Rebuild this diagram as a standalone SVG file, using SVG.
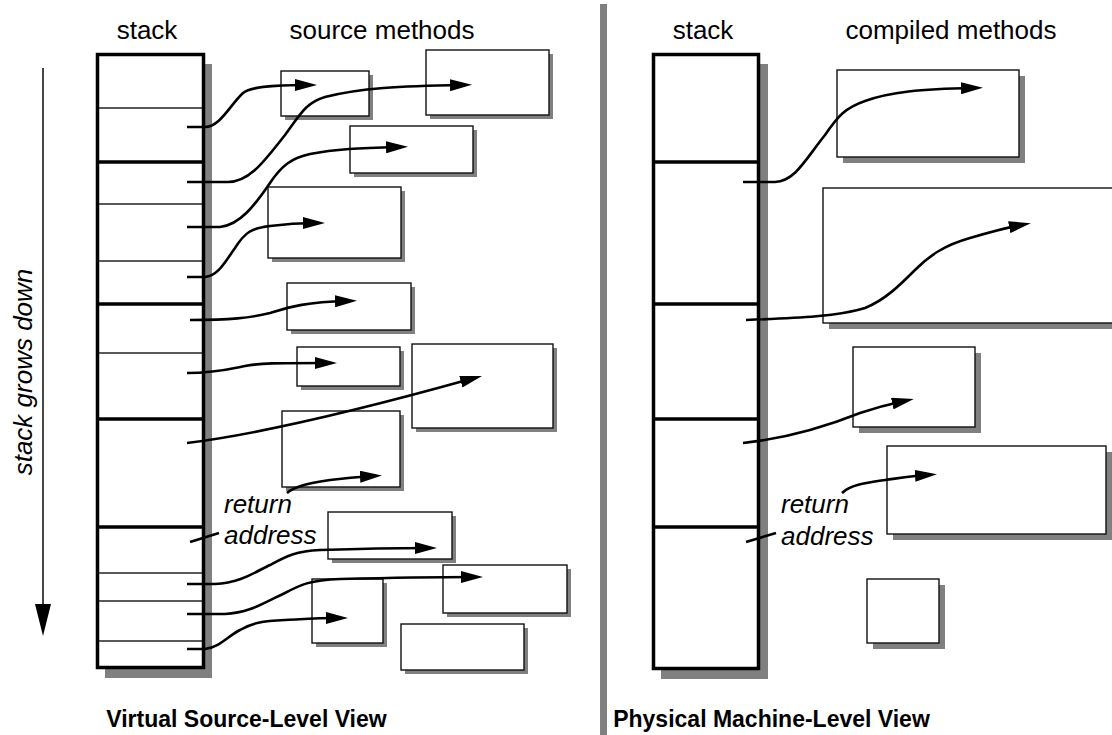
<svg xmlns="http://www.w3.org/2000/svg" width="1112" height="735" viewBox="0 0 1112 735">
  <style>
    .lbl { font-family: "Liberation Sans", Arial, sans-serif; font-size: 26px; fill: #000; }
    .it { font-style: italic; }
    .title { font-family: "Liberation Sans", Arial, sans-serif; font-size: 23px; font-weight: bold; fill: #000; }
    .stk { fill: #fff; stroke: #000; stroke-width: 3.5; }
    .shadow { fill: #808080; }
    .box { fill: #fff; stroke: #111; stroke-width: 1.4; }
    .thick { stroke: #000; stroke-width: 3.5; }
    .thin { stroke: #222; stroke-width: 1.3; }
    .conn { fill: none; stroke: #000; stroke-width: 2.6; }
    .arr { marker-end: url(#ah); }
  </style>
  <defs>
    <marker id="ah" markerUnits="userSpaceOnUse" markerWidth="22" markerHeight="12" refX="12" refY="6" orient="auto" viewBox="0 0 22 12">
      <path d="M0,0 L22,6 L0,12 z" fill="#000"/>
    </marker>
    <marker id="ahbig" markerUnits="userSpaceOnUse" markerWidth="16" markerHeight="32" refX="8" refY="0" viewBox="0 0 16 32">
      <path d="M0,0 L16,0 L8,32 z" fill="#000"/>
    </marker>
  </defs>

  <rect id="divider" x="600" y="4" width="7" height="731" fill="#808080"/>

  <g id="labels-top">
    <text class="lbl" x="147" y="39" text-anchor="middle">stack</text>
    <text class="lbl" x="382" y="39" text-anchor="middle">source methods</text>
    <text class="lbl" x="703" y="39" text-anchor="middle">stack</text>
    <text class="lbl" x="951" y="39" text-anchor="middle">compiled methods</text>
  </g>

  <g id="growth">
    <line x1="43" y1="68" x2="43" y2="604" stroke="#333" stroke-width="1.8" marker-end="url(#ahbig)"/>
    <text class="lbl it" transform="translate(32,372) rotate(-90)" text-anchor="middle">stack grows down</text>
  </g>

  <g id="stack-virtual">
    <rect class="shadow" x="105" y="64" width="107" height="614"/>
    <rect class="stk" x="97.5" y="54.5" width="106" height="613"/>
    <line class="thin" x1="99" y1="108" x2="202" y2="108"/>
    <line class="thick" x1="97" y1="162" x2="204" y2="162"/>
    <line class="thin" x1="99" y1="204" x2="202" y2="204"/>
    <line class="thin" x1="99" y1="261" x2="202" y2="261"/>
    <line class="thick" x1="97" y1="304" x2="204" y2="304"/>
    <line class="thin" x1="99" y1="353" x2="202" y2="353"/>
    <line class="thick" x1="97" y1="419" x2="204" y2="419"/>
    <line class="thick" x1="97" y1="527" x2="204" y2="527"/>
    <line class="thin" x1="99" y1="573" x2="202" y2="573"/>
    <line class="thin" x1="99" y1="601" x2="202" y2="601"/>
    <line class="thin" x1="99" y1="641" x2="202" y2="641"/>
  </g>

  <g id="stack-physical">
    <rect class="shadow" x="661" y="64" width="107" height="615"/>
    <rect class="stk" x="653.5" y="54.5" width="105" height="614"/>
    <line class="thick" x1="653" y1="162" x2="759" y2="162"/>
    <line class="thick" x1="653" y1="304" x2="759" y2="304"/>
    <line class="thick" x1="653" y1="419" x2="759" y2="419"/>
    <line class="thick" x1="653" y1="527" x2="759" y2="527"/>
  </g>

  <g id="src-m1"><rect class="shadow" x="285" y="75" width="88" height="45"/><rect class="box" x="281" y="71" width="88" height="45"/></g>
  <g id="src-m2"><rect class="shadow" x="430" y="54" width="123" height="65"/><rect class="box" x="426" y="50" width="123" height="65"/></g>
  <g id="src-m3"><rect class="shadow" x="354" y="130" width="123" height="47"/><rect class="box" x="350" y="126" width="123" height="47"/></g>
  <g id="src-m4"><rect class="shadow" x="272" y="191" width="133" height="71"/><rect class="box" x="268" y="187" width="133" height="71"/></g>
  <g id="src-m5"><rect class="shadow" x="291" y="287" width="124" height="47"/><rect class="box" x="287" y="283" width="124" height="47"/></g>
  <g id="src-m6"><rect class="shadow" x="301" y="351" width="103" height="39"/><rect class="box" x="297" y="347" width="103" height="39"/></g>
  <g id="src-m7"><rect class="shadow" x="416" y="348" width="141" height="84"/><rect class="box" x="412" y="344" width="141" height="84"/></g>
  <g id="src-m8"><rect class="shadow" x="286" y="415" width="118" height="76"/><rect class="box" x="282" y="411" width="118" height="76"/></g>
  <g id="src-m9"><rect class="shadow" x="332" y="516" width="124" height="47"/><rect class="box" x="328" y="512" width="124" height="47"/></g>
  <g id="src-m10"><rect class="shadow" x="447" y="569" width="124" height="48"/><rect class="box" x="443" y="565" width="124" height="48"/></g>
  <g id="src-m11"><rect class="shadow" x="316" y="583" width="71" height="64"/><rect class="box" x="312" y="579" width="71" height="64"/></g>
  <g id="src-m12"><rect class="shadow" x="405" y="628" width="123" height="46"/><rect class="box" x="401" y="624" width="123" height="46"/></g>

  <g id="cmp-m1"><rect class="shadow" x="843" y="76" width="182" height="87"/><rect class="box" x="837" y="70" width="182" height="87"/></g>
  <g id="cmp-m2"><rect class="shadow" x="829" y="194" width="300" height="135"/><rect class="box" x="823" y="188" width="300" height="135"/></g>
  <g id="cmp-m3"><rect class="shadow" x="859" y="353" width="122" height="80"/><rect class="box" x="853" y="347" width="122" height="80"/></g>
  <g id="cmp-m4"><rect class="shadow" x="893" y="452" width="219" height="88"/><rect class="box" x="887" y="446" width="219" height="88"/></g>
  <g id="cmp-m5"><rect class="shadow" x="873" y="585" width="72" height="64"/><rect class="box" x="867" y="579" width="72" height="64"/></g>

  <g id="connectors">
    <path class="conn arr" d="M187,127 L205,127 C220,127 230,105 243,93 C250,87 270,85 307,85"/>
    <path class="conn arr" d="M187,182 L228,182 C250,182 265,160 285,135 C300,115 305,103 325,97 C360,88 400,86 462,85"/>
    <path class="conn arr" d="M187,227 L220,227 C240,225 255,205 270,183 C282,165 292,158 310,154 C335,149 360,148 398,147"/>
    <path class="conn arr" d="M187,277 L205,277 C218,276 225,262 235,248 C245,232 252,228 270,226 C285,224 300,223 315,223"/>
    <path class="conn arr" d="M190,320 C230,320 250,318 270,313 C290,307 305,302 347,301"/>
    <path class="conn arr" d="M187,373 C215,373 230,369 245,366 C260,363 275,363 327,363"/>
    <path class="conn arr" d="M187,443 C260,434 360,410 472.4,378.6"/>
    <path class="conn arr" d="M287,493 C295,486 310,483 330,480 C345,478 355,477 372,476"/>
    <path class="conn" d="M190,542 L219,533"/>
    <path class="conn arr" d="M187,584 L215,584 C240,583 255,572 270,565 C285,557 295,551 320,550 C350,549 380,548 427,548"/>
    <path class="conn arr" d="M187,614 L225,614 C250,613 265,602 285,593 C300,585 310,580 340,579 C380,578 420,577 473,577"/>
    <path class="conn arr" d="M187,649 L205,649 C220,647 228,636 240,630 C252,623 262,621 285,620 C305,619 320,618 338,618"/>

    <path class="conn arr" d="M743,182 L775,182 C795,181 805,160 825,135 C838,116 845,108 865,101 C890,92 920,89 973,88"/>
    <path class="conn arr" d="M746,320 C800,318 840,316 865,308 C885,300 900,285 915,270 C930,255 945,245 970,238 C990,232 1005,228 1021,225"/>
    <path class="conn arr" d="M743,443 C790,438 830,425 860,413 C875,408 890,404 904,401"/>
    <path class="conn arr" d="M842,493 C850,485 865,483 885,480 C900,478 912,476 927,475"/>
    <path class="conn" d="M746,542 L776,533"/>
  </g>

  <g id="return-labels">
    <text class="lbl it" x="224" y="513">return</text>
    <text class="lbl it" x="224" y="544">address</text>
    <text class="lbl it" x="781" y="513">return</text>
    <text class="lbl it" x="781" y="545">address</text>
  </g>

  <g id="titles">
    <text class="title" x="246.5" y="727" text-anchor="middle">Virtual Source-Level View</text>
    <text class="title" x="771.5" y="727" text-anchor="middle">Physical Machine-Level View</text>
  </g>
</svg>
